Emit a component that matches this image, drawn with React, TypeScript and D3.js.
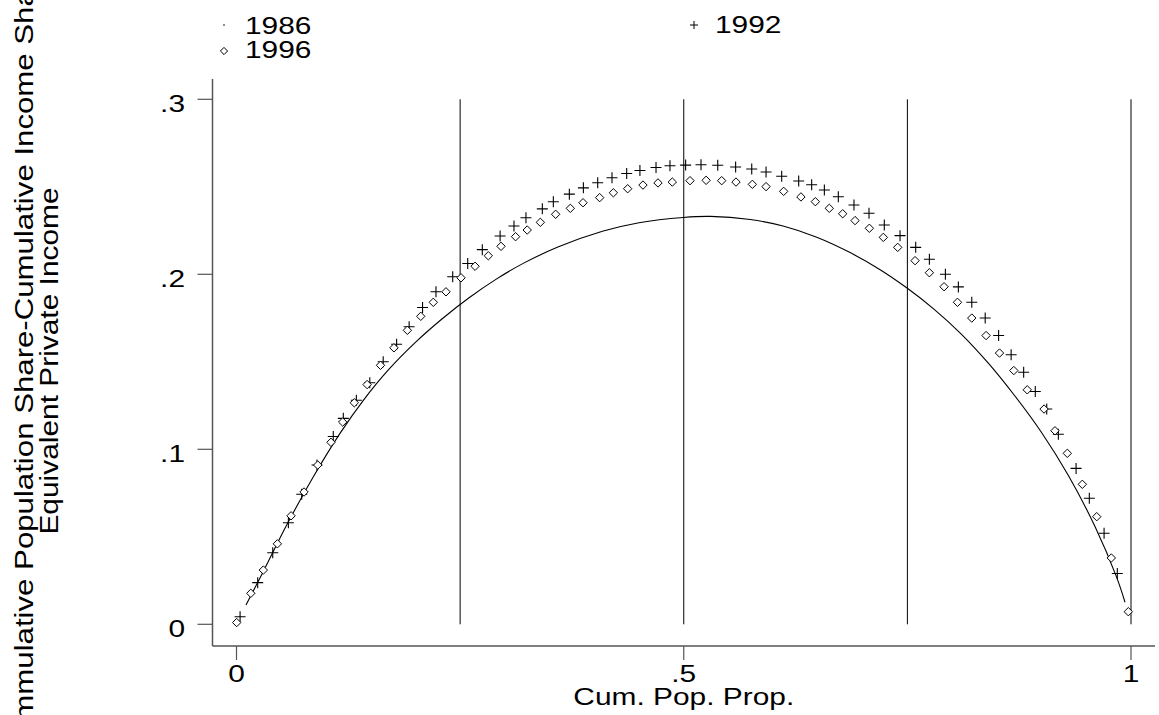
import React from 'react';
import * as d3 from 'd3';

// 1986 (tiny dot markers, dense -> drawn as a line)
const x1986 = [0.0106, 0.029, 0.0561, 0.0859, 0.1157, 0.1418, 0.17, 0.2, 0.23, 0.26, 0.29, 0.32, 0.36, 0.41, 0.45, 0.4995, 0.53, 0.5744, 0.611, 0.6487, 0.686, 0.72, 0.75, 0.78, 0.81, 0.84, 0.87, 0.9, 0.93, 0.96, 0.984, 0.9933];
const y1986 = [0.011, 0.0292, 0.0567, 0.0843, 0.1091, 0.128, 0.1455, 0.1611, 0.1746, 0.1866, 0.1971, 0.2061, 0.2157, 0.2247, 0.2295, 0.2325, 0.2331, 0.2313, 0.2276, 0.2212, 0.2124, 0.2025, 0.192, 0.18, 0.166, 0.1495, 0.1306, 0.1096, 0.085, 0.0556, 0.0268, 0.0126];

// 1992 (plus markers)
const x1992 = [0.004, 0.0237, 0.0405, 0.058, 0.0729, 0.09, 0.1082, 0.1194, 0.134, 0.149, 0.164, 0.179, 0.193, 0.208, 0.223, 0.2417, 0.2585, 0.2748, 0.2947, 0.3102, 0.3236, 0.3419, 0.3542, 0.3721, 0.3878, 0.4038, 0.4198, 0.4362, 0.451, 0.469, 0.4846, 0.5021, 0.5193, 0.538, 0.558, 0.576, 0.592, 0.6095, 0.6285, 0.643, 0.6572, 0.6728, 0.6903, 0.7071, 0.7242, 0.7418, 0.7593, 0.7746, 0.7925, 0.807, 0.822, 0.837, 0.852, 0.866, 0.88, 0.893, 0.9058, 0.9188, 0.9386, 0.9534, 0.9699, 0.9847];
const y1992 = [0.0043, 0.0238, 0.0409, 0.058, 0.0743, 0.091, 0.1073, 0.1177, 0.128, 0.138, 0.15, 0.16, 0.17, 0.181, 0.19, 0.1986, 0.2062, 0.2141, 0.2219, 0.2276, 0.2323, 0.2374, 0.2415, 0.2458, 0.2494, 0.2523, 0.2552, 0.2576, 0.2593, 0.261, 0.262, 0.2624, 0.2626, 0.2623, 0.2613, 0.2602, 0.2585, 0.256, 0.2533, 0.2512, 0.2482, 0.2443, 0.2396, 0.2349, 0.2282, 0.2221, 0.2154, 0.2086, 0.2, 0.1928, 0.184, 0.175, 0.165, 0.154, 0.144, 0.133, 0.123, 0.1086, 0.0891, 0.072, 0.052, 0.029];

// 1996 (diamond markers)
const x1996 = [0.0002, 0.016, 0.03, 0.0457, 0.061, 0.0755, 0.0908, 0.1056, 0.1187, 0.1317, 0.146, 0.161, 0.176, 0.191, 0.206, 0.22, 0.2342, 0.251, 0.2667, 0.2815, 0.2957, 0.312, 0.325, 0.3397, 0.3568, 0.3732, 0.3874, 0.406, 0.4213, 0.4373, 0.4544, 0.4712, 0.4872, 0.507, 0.525, 0.5424, 0.5584, 0.5767, 0.592, 0.6117, 0.631, 0.6471, 0.6627, 0.6777, 0.6915, 0.7075, 0.7231, 0.7392, 0.7586, 0.7746, 0.791, 0.806, 0.822, 0.838, 0.853, 0.869, 0.884, 0.9028, 0.915, 0.9288, 0.9456, 0.9617, 0.978, 0.997];
const y1996 = [0.001, 0.0177, 0.031, 0.046, 0.062, 0.0756, 0.091, 0.104, 0.1156, 0.1266, 0.137, 0.148, 0.158, 0.168, 0.176, 0.184, 0.19, 0.198, 0.2046, 0.2106, 0.216, 0.2215, 0.2253, 0.2297, 0.2343, 0.2377, 0.2409, 0.2438, 0.2466, 0.2489, 0.251, 0.2522, 0.2527, 0.2535, 0.2537, 0.2535, 0.2527, 0.2514, 0.2501, 0.2474, 0.2442, 0.2415, 0.2377, 0.2346, 0.2307, 0.2263, 0.2211, 0.2154, 0.2078, 0.2009, 0.1929, 0.184, 0.175, 0.165, 0.155, 0.145, 0.134, 0.123, 0.1106, 0.0977, 0.08, 0.0615, 0.0379, 0.0072];

const xTicks = [0, 0.5, 1];
const xTickLabels = ['0', '.5', '1'];
const yTicks = [0, 0.1, 0.2, 0.3];
const yTickLabels = ['0', '.1', '.2', '.3'];
const refLines = [0.25, 0.5, 0.75, 1];
const legendLabels = ['1986', '1992', '1996'];
const xTitle = 'Cum. Pop. Prop.';
const yTitle1 = 'Cummulative Population Share-Cumulative Income Share';
const yTitle2 = 'Equivalent Private Income';

const W = 1159;
const H = 715;
const FONT = '"Liberation Sans", Arial, sans-serif';

export default function App() {
  const x = d3.scaleLinear().domain([0, 1]).range([236.5, 1131]);
  const y = d3.scaleLinear().domain([0, 0.3]).range([624.3, 99.3]);
  const axisX = 212.5;
  const axisY = 646;

  const line = d3
    .line<number>()
    .x((_, i) => x(x1986[i]))
    .y((d) => y(d))
    .curve(d3.curveCatmullRom.alpha(0.5));

  const diamond = (cx: number, cy: number, r: number) =>
    `M${cx},${cy - r}L${cx + r},${cy}L${cx},${cy + r}L${cx - r},${cy}Z`;
  const plus = (cx: number, cy: number, r: number) =>
    `M${cx - r},${cy}H${cx + r}M${cx},${cy - r}V${cy + r}`;

  const hText = (
    tx: number,
    ty: number,
    s: string,
    anchor: 'start' | 'middle' | 'end' = 'start',
    size = 23
  ) => (
    <text
      key={`${s}-${tx}-${ty}`}
      transform={`translate(${tx},${ty}) scale(1.3,1)`}
      textAnchor={anchor}
      fontFamily={FONT}
      fontSize={size}
      fill="#000"
    >
      {s}
    </text>
  );

  return (
    <svg
      width={W}
      height={H}
      style={{ position: 'absolute', left: 0, top: 0, background: '#fff' }}
    >
      <rect x={0} y={0} width={W} height={H} fill="#fff" />
      {/* reference vertical lines */}
      {refLines.map((v) => (
        <line
          key={v}
          x1={x(v)}
          x2={x(v)}
          y1={y(0)}
          y2={y(0.3)}
          stroke="#000"
          strokeWidth={1}
        />
      ))}
      {/* axes */}
      <line x1={axisX} x2={axisX} y1={79} y2={axisY} stroke="#555" strokeWidth={1.5} />
      <line x1={axisX} x2={1155} y1={axisY} y2={axisY} stroke="#555" strokeWidth={1.5} />
      {yTicks.map((t, i) => (
        <g key={t}>
          <line x1={axisX - 15} x2={axisX} y1={y(t)} y2={y(t)} stroke="#555" strokeWidth={1.2} />
          {hText(185, y(t) + 13, yTickLabels[i], 'end')}
        </g>
      ))}
      {xTicks.map((t, i) => (
        <g key={t}>
          <line x1={x(t)} x2={x(t)} y1={axisY} y2={axisY + 14} stroke="#555" strokeWidth={1.2} />
          {hText(x(t), 682, xTickLabels[i], 'middle')}
        </g>
      ))}
      {hText(x(0.5), 705, xTitle, 'middle')}
      {/* y title */}
      <text
        transform={`translate(33,${361}) rotate(-90) scale(1.2,1)`}
        textAnchor="middle"
        fontFamily={FONT}
        fontSize={26}
      >
        {yTitle1}
      </text>
      <text
        transform={`translate(58,${361}) rotate(-90) scale(1.15,1)`}
        textAnchor="middle"
        fontFamily={FONT}
        fontSize={26}
      >
        {yTitle2}
      </text>

      {/* 1986 line */}
      <path d={line(y1986) || ''} fill="none" stroke="#000" strokeWidth={1.1} />
      {/* 1992 plus markers */}
      {x1992.map((v, i) => (
        <path key={`p${i}`} d={plus(x(v), y(y1992[i]), 5.5)} stroke="#000" strokeWidth={1.1} fill="none" />
      ))}
      {/* 1996 diamond markers */}
      {x1996.map((v, i) => (
        <path key={`d${i}`} d={diamond(x(v), y(y1996[i]), 4.2)} stroke="#000" strokeWidth={1} fill="#fff" />
      ))}

      {/* legend */}
      <circle cx={224} cy={25} r={0.8} fill="#000" />
      {hText(245, 34, legendLabels[0])}
      <path d={plus(694, 25, 4)} stroke="#000" strokeWidth={1} />
      {hText(715, 33, legendLabels[1])}
      <path d={diamond(224, 51, 3.6)} stroke="#000" strokeWidth={1} fill="#fff" />
      {hText(245, 58, legendLabels[2])}
    </svg>
  );
}
